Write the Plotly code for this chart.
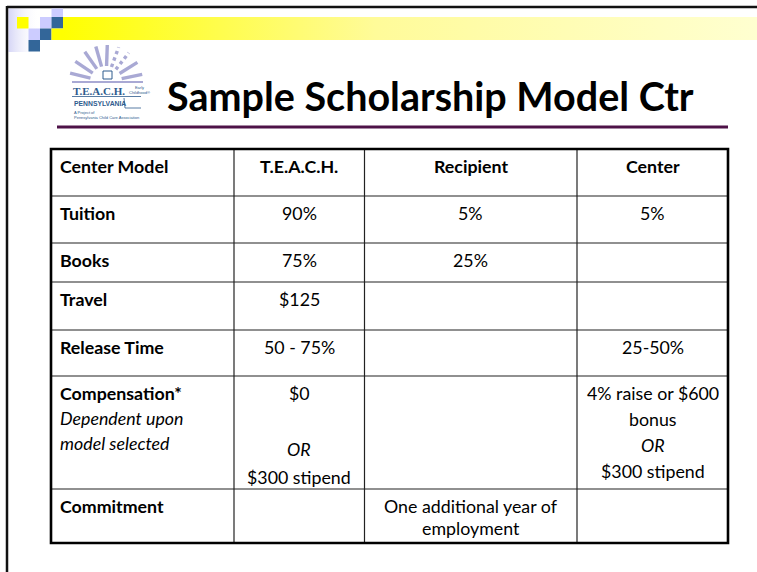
import math
import plotly.graph_objects as go

# ---------------- data ----------------
title = "Sample Scholarship Model Ctr"
header = ["Center Model", "T.E.A.C.H.", "Recipient", "Center"]
row_labels = [
    ["<b>Tuition</b>"],
    ["<b>Books</b>"],
    ["<b>Travel</b>"],
    ["<b>Release Time</b>"],
    ["<b>Compensation*</b>", "<i>Dependent upon</i>", "<i>model selected</i>"],
    ["<b>Commitment</b>"],
]
teach_share = [["90%"], ["75%"], ["$125"], ["50 - 75%"], ["$0", "", "<i>OR</i>", "$300 stipend"], []]
recipient_share = [["5%"], ["25%"], [], [], [], ["One additional year of", "employment"]]
center_share = [["5%"], [], [], ["25-50%"], ["4% raise or $600", "bonus", "<i>OR</i>", "$300 stipend"], []]

# ---------------- layout / style ----------------
W, H = 757, 572
FONT = "Lato, 'Open Sans', sans-serif"
col_edges = [51, 234, 364.5, 577, 728]
row_edges = [149, 196, 243, 282, 330, 376, 489, 543]
line_pitch = [25, 28, 22, 26]  # per column
text_offset = 17
pad_left = 7

fig = go.Figure()
shapes = []
ann = []

# slide frame
shapes.append(dict(type="line", x0=7, y0=7, x1=W, y1=7, line=dict(color="#111", width=2.5)))
shapes.append(dict(type="line", x0=7, y0=6, x1=7, y1=H, line=dict(color="#111", width=2.5)))

# pale lavender fades at top-left
fig.add_trace(go.Scatter(x=[8.5, 40, 40, 8.5, 8.5], y=[8.5, 8.5, 52, 52, 8.5], mode="lines",
                         fill="toself", line=dict(width=0), hoverinfo="skip", showlegend=False,
                         fillgradient=dict(type="horizontal",
                                           colorscale=[[0, "#D6D6F6"], [1, "rgba(255,255,255,0)"]])))
# yellow gradient bar
fig.add_trace(go.Scatter(x=[63, W, W, 63, 63], y=[17, 17, 40, 40, 17], mode="lines",
                         fill="toself", line=dict(width=0), hoverinfo="skip", showlegend=False,
                         fillgradient=dict(type="horizontal",
                                           colorscale=[[0, "#FFFF00"], [0.45, "#FFFB99"], [1, "#FFFFD0"]])))

# pixel squares (col, row, colour)
cell = 11.5
gx = [5.5 + cell * i for i in range(6)]
gy = [5.5 + cell * i for i in range(5)]
LAV, BLU, YEL = "#CCCCFF", "#336699", "#FFFF00"
squares = [(4, 0, LAV), (1, 1, YEL), (3, 1, LAV), (4, 1, BLU),
           (2, 2, LAV), (3, 2, BLU), (4, 2, YEL), (2, 3, BLU)]
for c, r, col in squares:
    y0 = max(gy[r], 8.5)
    shapes.append(dict(type="rect", x0=gx[c], x1=gx[c] + cell, y0=y0, y1=gy[r] + cell,
                       fillcolor=col, line=dict(width=0), layer="above"))

# ---- logo ----
LOGO = "#2F5C8E"
cx, cy = 106, 82
for ang, dotted in [(12, False), (32, False), (52, True), (70, True), (88, False),
                    (106, False), (125, False), (146, False), (166, False)]:
    a = math.radians(ang)
    r0, r1 = 16, 37
    shapes.append(dict(type="line",
                       x0=cx + r0 * math.cos(a), y0=cy - r0 * math.sin(a),
                       x1=cx + r1 * math.cos(a), y1=cy - r1 * math.sin(a),
                       line=dict(color="#A9A9D4", width=3.4, dash="dot" if dotted else "solid")))
shapes.append(dict(type="line", x0=72, y0=cy, x1=143, y1=cy, line=dict(color="#A9A9D4", width=2)))
shapes.append(dict(type="path", path=f"M {cx-13},{cy} A 13 13 0 0 1 {cx+13},{cy} Z",
                   fillcolor=LOGO, line=dict(width=0)))
shapes.append(dict(type="rect", x0=cx - 3, y0=cy - 11, x1=cx + 6, y1=cy - 3,
                   fillcolor="white", line=dict(color=LOGO, width=1)))
ann.append(dict(x=71, y=91, text="<b>T.E.A.C.H.</b>", showarrow=False, xanchor="left", yanchor="middle",
                font=dict(family="'Liberation Serif', serif", size=11, color=LOGO)))
ann.append(dict(x=127, y=89.5, text="Early<br>Childhood®", showarrow=False, xanchor="left", yanchor="middle",
                font=dict(family="'Liberation Sans', sans-serif", size=4, color=LOGO)))
shapes.append(dict(type="line", x0=72, y0=96.5, x1=141, y1=96.5, line=dict(color=LOGO, width=0.8)))
ann.append(dict(x=72, y=103, text="<b>PENNSYLVANIA</b>", showarrow=False, xanchor="left", yanchor="middle",
                font=dict(family="'Liberation Sans', sans-serif", size=6.8, color=LOGO)))
shapes.append(dict(type="path", path="M 124,98 L 125,108 L 141,108", line=dict(color=LOGO, width=0.8)))
ann.append(dict(x=72, y=112, text="A Project of", showarrow=False, xanchor="left", yanchor="middle",
                font=dict(family="'Liberation Sans', sans-serif", size=4, color=LOGO)))
ann.append(dict(x=72, y=117, text="Pennsylvania Child Care Association", showarrow=False, xanchor="left",
                yanchor="middle", font=dict(family="'Liberation Sans', sans-serif", size=4, color=LOGO)))

# title + rule
ann.append(dict(x=165, y=95, text=f"<b>{title}</b>", showarrow=False, xanchor="left", yanchor="middle",
                font=dict(family=FONT, size=39.5, color="#000")))
shapes.append(dict(type="line", x0=57, y0=127, x1=728, y1=127, line=dict(color="#4E1248", width=3)))

# ---- table ----
for y in row_edges[1:-1]:
    shapes.append(dict(type="line", x0=col_edges[0], x1=col_edges[-1], y0=y, y1=y,
                       line=dict(color="#222", width=1.2)))
for x in col_edges[1:-1]:
    shapes.append(dict(type="line", x0=x, x1=x, y0=row_edges[0], y1=row_edges[-1],
                       line=dict(color="#222", width=1.2)))
shapes.append(dict(type="rect", x0=col_edges[0], x1=col_edges[-1], y0=row_edges[0], y1=row_edges[-1],
                   line=dict(color="#000", width=2.6)))


def put(lines, ci, ri):
    top = row_edges[ri] + text_offset
    for k, t in enumerate(lines):
        if not t:
            continue
        if ci == 0:
            x, xa = col_edges[0] + pad_left, "left"
        else:
            x, xa = (col_edges[ci] + col_edges[ci + 1]) / 2, "center"
        ann.append(dict(x=x, y=top + k * line_pitch[ci], text=t, showarrow=False, xanchor=xa,
                        yanchor="middle", font=dict(family=FONT, size=17.8, color="#000")))


for ci, h in enumerate(header):
    put([f"<b>{h}</b>"], ci, 0)
for ri in range(len(row_labels)):
    put(row_labels[ri], 0, ri + 1)
    put(teach_share[ri], 1, ri + 1)
    put(recipient_share[ri], 2, ri + 1)
    put(center_share[ri], 3, ri + 1)

fig.update_layout(
    width=W, height=H, margin=dict(l=0, r=0, t=0, b=0),
    paper_bgcolor="white", plot_bgcolor="white",
    xaxis=dict(range=[0, W], visible=False, fixedrange=True),
    yaxis=dict(range=[H, 0], visible=False, fixedrange=True),
    shapes=shapes, annotations=ann, showlegend=False,
)
fig.write_html("out.html", config={"displayModeBar": False},
               post_script="document.body.style.margin='0';document.body.style.overflow='hidden';")
